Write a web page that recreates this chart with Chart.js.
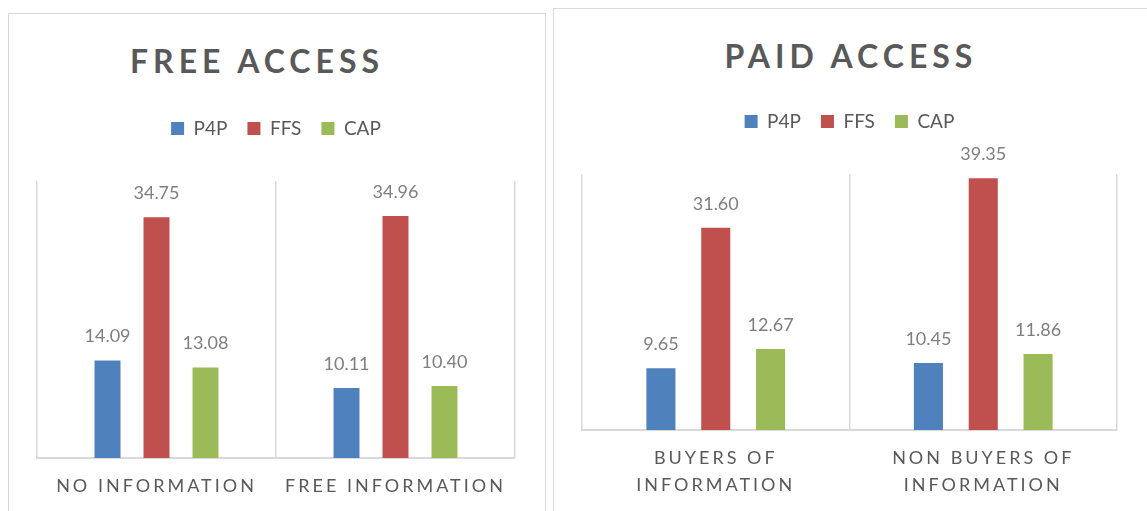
<!DOCTYPE html>
<html lang="en">
<head>
    <meta charset="UTF-8">
    <title>Free access / Paid access</title>
    <script src="https://cdn.jsdelivr.net/npm/chart.js"></script>
    <style>
        body {
            margin: 0;
            width: 1147px;
            height: 511px;
            overflow: hidden;
            position: relative;
            background: #fff;
            font-family: Lato, sans-serif;
        }
        .panel {
            position: absolute;
            box-sizing: border-box;
            border: 1px solid #d9d9d9;
            background: #fff;
        }
        #panelFree { left: 8px; top: 13px; width: 538px; height: 530px; }
        #panelPaid { left: 553px; top: 8px; width: 640px; height: 530px; }
        h2 {
            position: absolute;
            margin: 0;
            font: bold 32px Lato, sans-serif;
            letter-spacing: 5px;
            color: #595959;
            white-space: nowrap;
            transform: translate(-50%, -50%);
        }
        #titleFree { left: 257px; top: 60px; }
        #titlePaid { left: 851px; top: 55px; }
        canvas { position: absolute; }
        #freeChart { left: 8px; top: 99px; }
        #paidChart { left: 553px; top: 92px; }
    </style>
</head>
<body>
    <div class="panel" id="panelFree"></div>
    <div class="panel" id="panelPaid"></div>
    <h2 id="titleFree">FREE ACCESS</h2>
    <h2 id="titlePaid">PAID ACCESS</h2>
    <!-- canvases run a few px past the bottom edge, same as the panels -->
    <canvas id="freeChart" width="537" height="415"></canvas>
    <canvas id="paidChart" width="594" height="421"></canvas>

    <script>
        // data
        const seriesNames = ['P4P', 'FFS', 'CAP'];
        const seriesColors = ['#4f81bd', '#c0504d', '#9bbb59'];

        const freeCategories = ['NO INFORMATION', 'FREE INFORMATION'];
        const freeP4P = [14.09, 10.11];
        const freeFFS = [34.75, 34.96];
        const freeCAP = [13.08, 10.40];

        const paidCategories = [['BUYERS OF', 'INFORMATION'], ['NON BUYERS OF', 'INFORMATION']];
        const paidP4P = [9.65, 10.45];
        const paidFFS = [31.60, 39.35];
        const paidCAP = [12.67, 11.86];

        const yMax = 40;

        // numbers above the bars, then spaced-out category labels (ticks drawn with z = 1)
        const valueLabels = {
            id: 'valueLabels',
            beforeDraw(chart) {
                chart.ctx.letterSpacing = '0px';
            },
            afterDatasetsDraw(chart) {
                const ctx = chart.ctx;
                ctx.save();
                ctx.font = '18px Lato';
                ctx.fillStyle = '#7f7f7f';
                ctx.textAlign = 'center';
                ctx.textBaseline = 'middle';
                chart.data.datasets.forEach((ds, i) => {
                    chart.getDatasetMeta(i).data.forEach((bar, j) => {
                        ctx.fillText(ds.data[j].toFixed(2), bar.x, bar.y - 24);
                    });
                });
                ctx.restore();
                ctx.letterSpacing = '3px';
            },
            afterDraw(chart) {
                chart.ctx.letterSpacing = '0px';
            }
        };

        // more room between legend and plot
        const legendGap = {
            id: 'legendGap',
            beforeInit(chart) {
                const fit = chart.legend.fit;
                chart.legend.fit = function () {
                    fit.bind(chart.legend)();
                    this.height += 33;
                };
            }
        };

        const makeChart = (id, labels, p4p, ffs, cap) => {
            const values = [p4p, ffs, cap];
            return new Chart(document.getElementById(id), {
                type: 'bar',
                data: {
                    labels: labels,
                    datasets: seriesNames.map((name, i) => ({
                        label: name,
                        data: values[i],
                        backgroundColor: seriesColors[i],
                        categoryPercentage: 0.615,
                        barPercentage: 0.53
                    }))
                },
                options: {
                    responsive: false,
                    animation: false,
                    layout: { padding: { left: 29, right: 30, top: 0, bottom: 0 } },
                    plugins: {
                        legend: {
                            position: 'top',
                            labels: {
                                boxWidth: 13,
                                boxHeight: 13,
                                padding: 20,
                                color: '#595959',
                                font: { family: 'Lato', size: 19 }
                            }
                        },
                        tooltip: { enabled: false }
                    },
                    scales: {
                        x: {
                            grid: { offset: true, color: '#d9d9d9', lineWidth: 1.5, drawTicks: false },
                            border: { color: '#d9d9d9', width: 2 },
                            ticks: {
                                z: 1,
                                color: '#595959',
                                font: { family: 'Lato', size: 18, lineHeight: 1.5 },
                                padding: 14.5,
                                maxRotation: 0,
                                autoSkip: false
                            }
                        },
                        y: { display: false, min: 0, max: yMax }
                    }
                },
                plugins: [valueLabels, legendGap]
            });
        };

        makeChart('freeChart', freeCategories, freeP4P, freeFFS, freeCAP);
        makeChart('paidChart', paidCategories, paidP4P, paidFFS, paidCAP);
    </script>
</body>
</html>
